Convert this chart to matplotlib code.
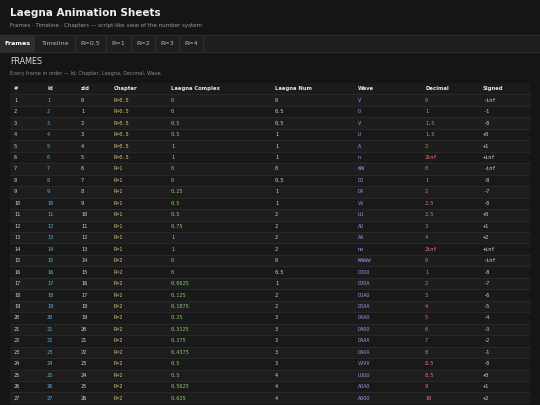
import matplotlib.pyplot as plt
from matplotlib.patches import Rectangle

# table data
ids = list(range(1, 28))
zids = list(range(0, 27))
chapters = ['R=0.5'] * 6 + ['R=1'] * 8 + ['R=2'] * 13
complex_ = ['0', '0', '0.5', '0.5', '1', '1', '0', '0', '0.25', '0.5', '0.5', '0.75', '1', '1',
            '0', '0', '0.0625', '0.125', '0.1875', '0.25', '0.3125', '0.375', '0.4375', '0.5', '0.5',
            '0.5625', '0.625']
laegna_num = ['0', '0.5', '0.5', '1', '1', '1', '0', '0.5', '1', '1', '2', '2', '2', '2',
              '0', '0.5', '1', '2', '2', '3', '3', '3', '3', '3', '4', '4', '4']
waves = ['V', 'O', 'V', 'U', 'A', 'n', 'WW', 'OO', 'OA', 'VV', 'UU', 'AO', 'AA', 'nn',
         'WWWW', 'OOOO', 'OOOA', 'OOAO', 'OOAA', 'OAAO', 'OAOO', 'OAAA', 'OAOA', 'VVVV', 'UUUU',
         'AOAO', 'AOOO']
decimals = ['0', '1', '1.5', '1.5', '2', '2inf', '0', '1', '2', '2.5', '2.5', '3', '4', '2inf',
            '0', '1', '2', '3', '4', '5', '6', '7', '8', '8.5', '8.5', '9', '10']
signed = ['-inf', '-1', '-0', '+0', '+1', '+inf', '-inf', '-8', '-7', '-0', '+0', '+1', '+2', '+inf',
          '-inf', '-8', '-7', '-6', '-5', '-4', '-3', '-2', '-1', '-0', '+0', '+1', '+2']
headers = ['#', 'Id', 'zId', 'Chapter', 'Laegna Complex', 'Laegna Num', 'Wave', 'Decimal', 'Signed']
tabs = ['Frames', 'Timeline', 'R=0.5', 'R=1', 'R=2', 'R=3', 'R=4']

col_x = [14, 47, 81, 114, 171, 275, 358, 425, 483]
col_colors = ['#d0d0d0', '#5fb0de', '#d0d0d0', '#d8c27c', '#86c96e', '#d0d0d0', '#a88ee0', '#e07b6b', '#d0d0d0']

fig = plt.figure(figsize=(5.4, 4.05), dpi=100)
fig.patch.set_facecolor('#151515')
ax = fig.add_axes([0, 0, 1, 1])
ax.set_xlim(0, 540)
ax.set_ylim(405, 0)
ax.axis('off')

# header
ax.text(10, 13, 'Laegna Animation Sheets', color='#f0f0f0', fontsize=7.5, fontweight='bold', va='center')
ax.text(10, 26, 'Frames · Timeline · Chapters — script-like view of the number system',
        color='#9a9a9a', fontsize=4, va='center')

# tab bar
ax.add_patch(Rectangle((0, 35), 540, 17, color='#1e1e1e', lw=0))
ax.plot([0, 540], [35, 35], color='#333333', lw=0.6)
ax.plot([0, 540], [52, 52], color='#333333', lw=0.6)
tab_x = [0, 34, 75, 106, 131, 155, 179, 203]
for i, t in enumerate(tabs):
    if i == 0:
        ax.add_patch(Rectangle((0, 35), 34, 17, color='#2c2c2c', lw=0))
    ax.text((tab_x[i] + tab_x[i + 1]) / 2, 43.5, t, color='#ffffff' if i == 0 else '#b8b8b8',
            fontsize=4.6, fontweight='bold' if i == 0 else 'normal', ha='center', va='center')
    ax.plot([tab_x[i + 1]] * 2, [35, 52], color='#333333', lw=0.6)

ax.text(10, 62, 'FRAMES', color='#dcdcdc', fontsize=5.8, va='center')
ax.text(10, 74, 'Every frame in order — Id, Chapter, Laegna, Decimal, Wave.', color='#8a8a8a',
        fontsize=3.6, va='center')

# table
top, row_h = 83, 11.46
ax.add_patch(Rectangle((10, top), 520, row_h, color='#1b1b1b', lw=0))
for j, h in enumerate(headers):
    ax.text(col_x[j], top + row_h / 2, h, color='#e6e6e6', fontsize=3.8, fontweight='bold', va='center')

rows = list(zip(ids, ids, zids, chapters, complex_, laegna_num, waves, decimals, signed))
for i, r in enumerate(rows):
    y0 = top + row_h * (i + 1)
    ax.add_patch(Rectangle((10, y0), 520, row_h, color='#1d1d1d' if i % 2 == 0 else '#191919', lw=0))
    ax.plot([10, 530], [y0, y0], color='#2e2e2e', lw=0.5)
    for j, v in enumerate(r):
        ax.text(col_x[j], y0 + row_h / 2, str(v), color=col_colors[j], fontsize=3.8,
                family='DejaVu Sans Mono', va='center')

fig.savefig('out.png', dpi=100, facecolor=fig.get_facecolor())
